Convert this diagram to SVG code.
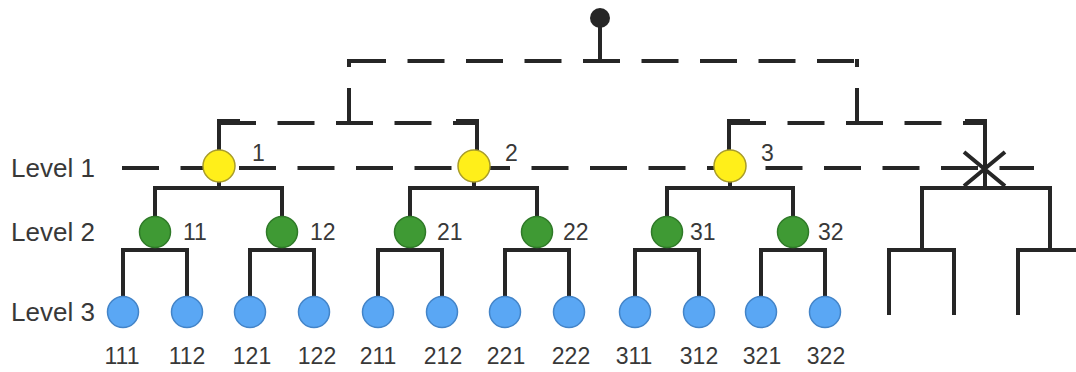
<svg xmlns="http://www.w3.org/2000/svg" width="1076" height="372" viewBox="0 0 1076 372">
  <style>
    .solid { fill: none; stroke: #262626; stroke-width: 4; stroke-linecap: butt; }
    .dash { fill: none; stroke: #262626; stroke-width: 4; stroke-dasharray: 37 21.5; }
    .y { fill: #ffef1a; stroke: #a89c2a; stroke-width: 1.5; }
    .g { fill: #3f9a34; stroke: #2f7a28; stroke-width: 1.5; }
    .b { fill: #5aa7f4; stroke: #4384c8; stroke-width: 1.5; }
    text { font-family: "Liberation Sans", Arial, sans-serif; fill: #383838; }
    .lvl { font-size: 26px; }
    .nl { font-size: 23px; }
    .num { font-size: 23px; text-anchor: middle; }
  </style>
  <rect width="1076" height="372" fill="#ffffff"/>

  <!-- connectors -->
  <g id="connectors">
    <!-- root pin -->
    <line class="solid" x1="600" y1="18" x2="600" y2="61"/>
    <!-- top dashed bus -->
    <line class="dash" x1="349" y1="61" x2="857" y2="61"/>
    <path class="solid" d="M349,67 V59 M857,67 V59"/>
    <line class="solid" x1="349" y1="88" x2="349" y2="125"/>
    <line class="solid" x1="857" y1="88" x2="857" y2="125"/>
    <!-- second dashed buses -->
    <line class="dash" x1="219" y1="123" x2="477" y2="123"/>
    <line class="dash" x1="729" y1="123" x2="987" y2="123"/>
    <path class="solid" d="M219,150 V121 H240 M477,150 V121 H456"/>
    <path class="solid" d="M729,150 V121 H750 M985,188 V121 H965"/>
    <!-- level 1 dashed line -->
    <line class="dash" x1="122" y1="168" x2="1034" y2="168"/>
    <!-- cut mark -->
    <path class="solid" d="M964,152 L1005,186 M1005,152 L964,186"/>

    <!-- level 1 to level 2 brackets -->
    <path class="solid" d="M219,182 V188 M155,218 V188 H282 V218"/>
    <path class="solid" d="M474,182 V188 M410,218 V188 H537 V218"/>
    <path class="solid" d="M730,182 V188 M667,218 V188 H793 V218"/>
    <path class="solid" d="M922,250 V188 H1050 V250"/>

    <!-- level 2 to level 3 brackets -->
    <path class="solid" d="M155,246 V250 M123,297 V250 H187 V297"/>
    <path class="solid" d="M282,246 V250 M250,297 V250 H314 V297"/>
    <path class="solid" d="M410,246 V250 M378,297 V250 H442 V297"/>
    <path class="solid" d="M537,246 V250 M505,297 V250 H569 V297"/>
    <path class="solid" d="M667,246 V250 M635,297 V250 H699 V297"/>
    <path class="solid" d="M793,246 V250 M761,297 V250 H825 V297"/>
    <path class="solid" d="M889,315 V250 H954 V315"/>
    <path class="solid" d="M1018,315 V250 H1082"/>
  </g>

  <!-- root -->
  <g id="root"><circle cx="600" cy="18" r="10" fill="#262626"/></g>

  <!-- level labels -->
  <g id="level-labels">
    <text class="lvl" x="11" y="177">Level 1</text>
    <text class="lvl" x="11" y="241">Level 2</text>
    <text class="lvl" x="11" y="321">Level 3</text>
  </g>

  <!-- level 1 nodes -->
  <g id="n1"><circle class="y" cx="219" cy="166" r="16"/><text class="nl" x="252" y="161">1</text></g>
  <g id="n2"><circle class="y" cx="474" cy="166" r="16"/><text class="nl" x="505" y="161">2</text></g>
  <g id="n3"><circle class="y" cx="730" cy="166" r="16"/><text class="nl" x="761" y="161">3</text></g>

  <!-- level 2 nodes -->
  <g id="n11"><circle class="g" cx="155" cy="232" r="15.5"/><text class="nl" x="183" y="240">11</text></g>
  <g id="n12"><circle class="g" cx="282" cy="232" r="15.5"/><text class="nl" x="310" y="240">12</text></g>
  <g id="n21"><circle class="g" cx="410" cy="232" r="15.5"/><text class="nl" x="437" y="240">21</text></g>
  <g id="n22"><circle class="g" cx="537" cy="232" r="15.5"/><text class="nl" x="563" y="240">22</text></g>
  <g id="n31"><circle class="g" cx="667" cy="232" r="15.5"/><text class="nl" x="690" y="240">31</text></g>
  <g id="n32"><circle class="g" cx="793" cy="232" r="15.5"/><text class="nl" x="818" y="240">32</text></g>

  <!-- level 3 nodes -->
  <g id="n111"><circle class="b" cx="123" cy="312" r="15.5"/><text class="num" x="122" y="364">111</text></g>
  <g id="n112"><circle class="b" cx="187" cy="312" r="15.5"/><text class="num" x="187" y="364">112</text></g>
  <g id="n121"><circle class="b" cx="250" cy="312" r="15.5"/><text class="num" x="252" y="364">121</text></g>
  <g id="n122"><circle class="b" cx="314" cy="312" r="15.5"/><text class="num" x="317" y="364">122</text></g>
  <g id="n211"><circle class="b" cx="378" cy="312" r="15.5"/><text class="num" x="378" y="364">211</text></g>
  <g id="n212"><circle class="b" cx="442" cy="312" r="15.5"/><text class="num" x="443" y="364">212</text></g>
  <g id="n221"><circle class="b" cx="505" cy="312" r="15.5"/><text class="num" x="506" y="364">221</text></g>
  <g id="n222"><circle class="b" cx="569" cy="312" r="15.5"/><text class="num" x="571" y="364">222</text></g>
  <g id="n311"><circle class="b" cx="635" cy="312" r="15.5"/><text class="num" x="634" y="364">311</text></g>
  <g id="n312"><circle class="b" cx="699" cy="312" r="15.5"/><text class="num" x="699" y="364">312</text></g>
  <g id="n321"><circle class="b" cx="761" cy="312" r="15.5"/><text class="num" x="762" y="364">321</text></g>
  <g id="n322"><circle class="b" cx="825" cy="312" r="15.5"/><text class="num" x="826" y="364">322</text></g>
</svg>
